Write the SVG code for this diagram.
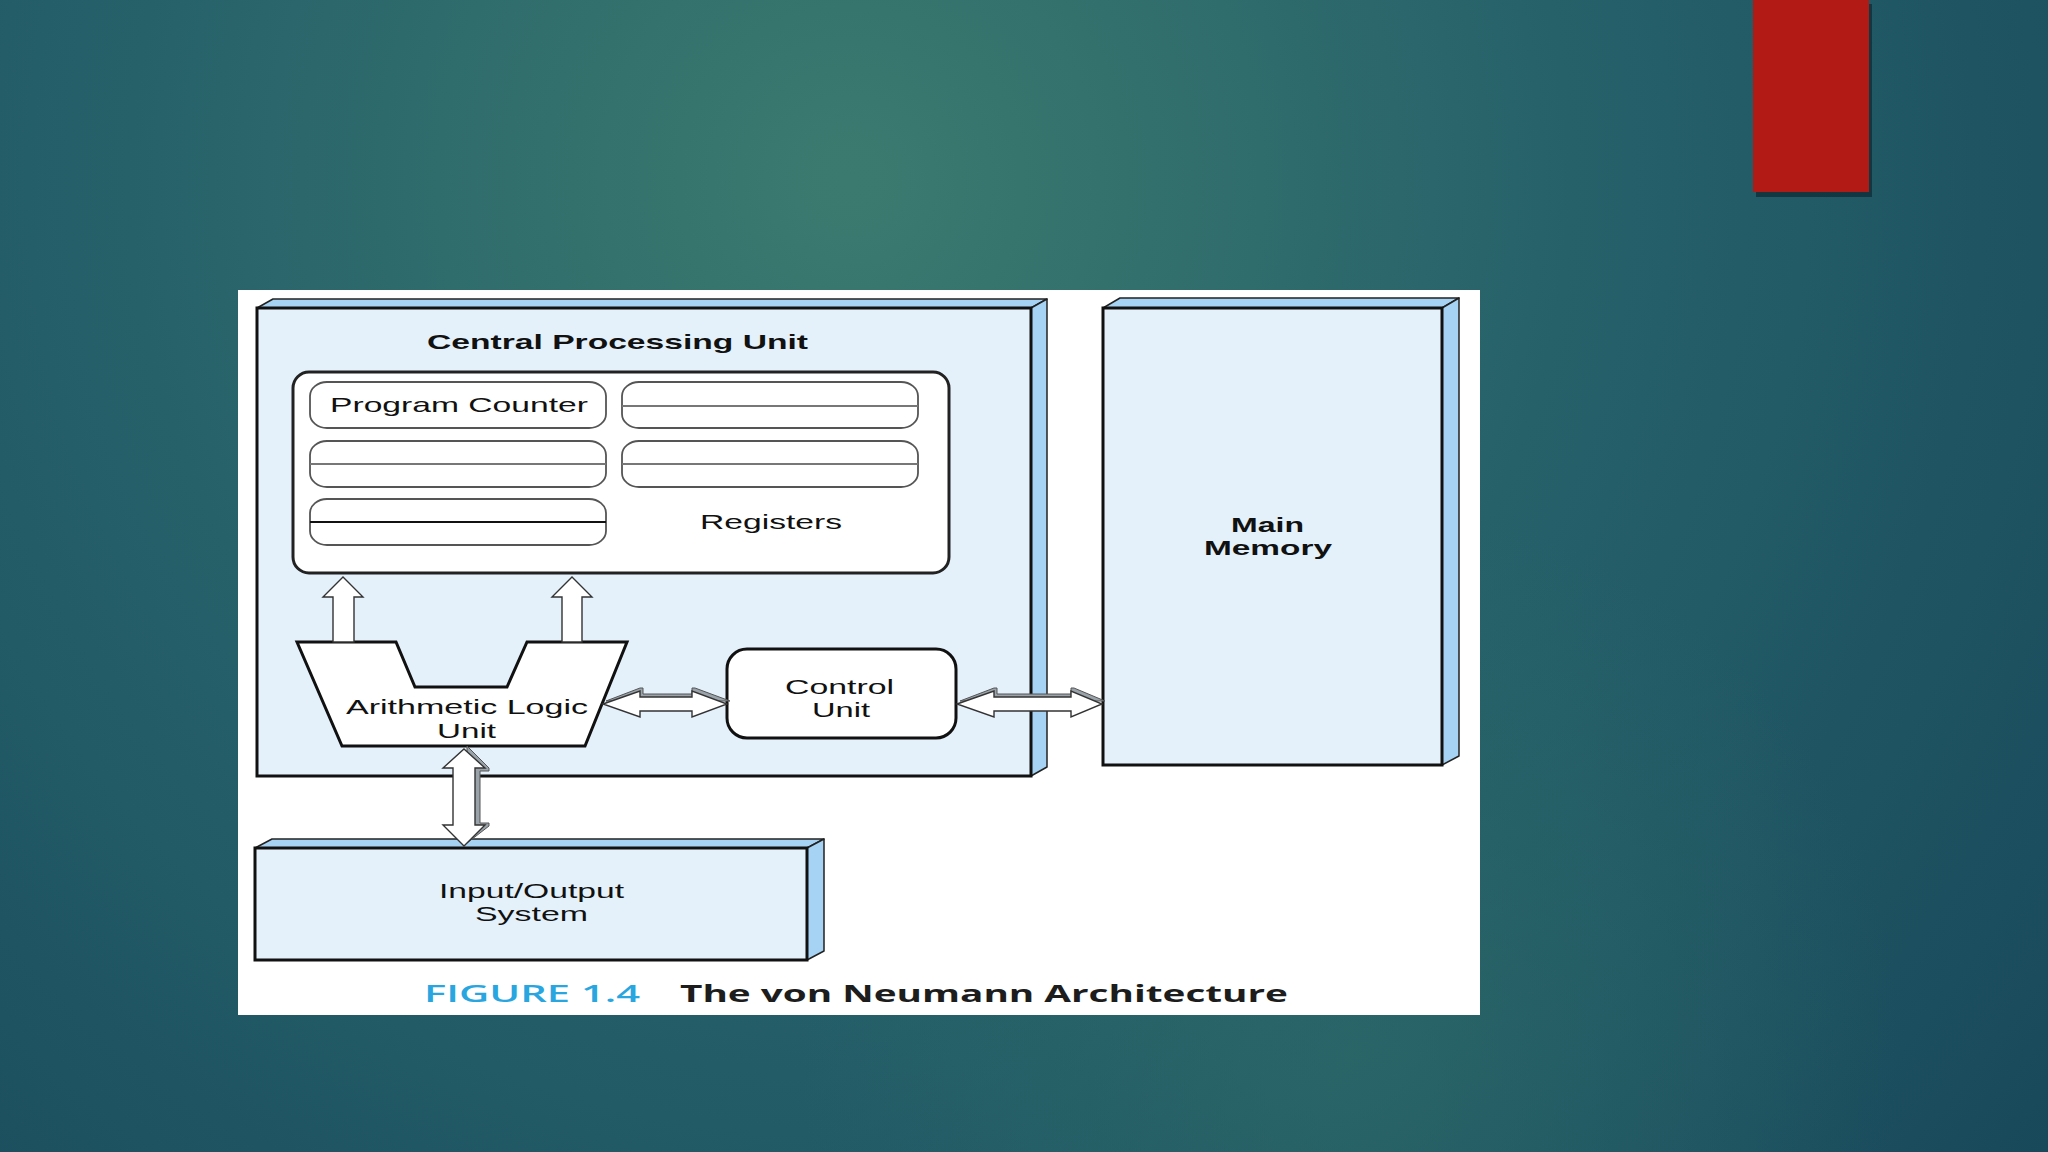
<svg xmlns="http://www.w3.org/2000/svg" width="2048" height="1152" viewBox="0 0 2048 1152">
  <defs>
    <radialGradient id="bg" cx="850" cy="180" r="1600" gradientUnits="userSpaceOnUse">
      <stop offset="0" stop-color="#3b7b6f"/>
      <stop offset="0.45" stop-color="#26616a"/>
      <stop offset="1" stop-color="#17475a"/>
    </radialGradient>
    <radialGradient id="bg2" cx="1350" cy="1050" r="550" gradientUnits="userSpaceOnUse">
      <stop offset="0" stop-color="#2f6e6a" stop-opacity="0.6"/>
      <stop offset="1" stop-color="#2f6e6a" stop-opacity="0"/>
    </radialGradient>
    <style>
      .face { fill: #e4f1fb; stroke: #111; stroke-width: 3; stroke-linejoin: miter; }
      .bevel { fill: #a6d3f3; stroke: #222; stroke-width: 1.5; stroke-linejoin: round; }
      .reg { fill: #fff; stroke: #555; stroke-width: 1.8; }
      .regline { stroke: #777; stroke-width: 2; }
      .arrow { fill: #fff; stroke: #333; stroke-width: 1.4; stroke-linejoin: miter; }
      .ashadow { fill: #9aa3aa; stroke: #555; stroke-width: 1; }
      .lbl { font-family: "Liberation Sans", Arial, sans-serif; font-size: 21px; fill: #111; }
      .bold { font-family: "Liberation Sans", Arial, sans-serif; font-size: 21px; font-weight: bold; fill: #111; }
      .cap { font-family: "Open Sans", "Noto Sans", sans-serif; font-size: 23px; }
    </style>
  </defs>

  <!-- background -->
  <rect x="0" y="0" width="2048" height="1152" fill="url(#bg)"/>
  <rect x="0" y="0" width="2048" height="1152" fill="url(#bg2)"/>

  <!-- red accent bar -->
  <rect x="1756" y="4" width="116" height="193" fill="#0e2a33" opacity="0.7"/>
  <rect x="1753" y="0" width="116" height="192" fill="#b21a16"/>

  <!-- white figure panel -->
  <rect x="238" y="290" width="1242" height="725" fill="#ffffff"/>

  <!-- CPU -->
  <g id="cpu">
    <polygon class="bevel" points="257,308 273,299 1047,299 1031,308"/>
    <polygon class="bevel" points="1031,308 1047,299 1047,767 1031,776"/>
    <rect class="face" x="257" y="308" width="774" height="468"/>
    <text class="bold" x="427" y="349" textLength="381" lengthAdjust="spacingAndGlyphs">Central Processing Unit</text>
  </g>

  <!-- Registers -->
  <g id="registers">
    <rect x="293" y="372" width="656" height="201" rx="16" ry="16" fill="#fff" stroke="#222" stroke-width="3"/>
    <rect class="reg" x="310" y="382" width="296" height="46" rx="17" ry="14"/>
    <rect class="reg" x="622" y="382" width="296" height="46" rx="17" ry="14"/>
    <line class="regline" x1="622" y1="406" x2="918" y2="406"/>
    <rect class="reg" x="310" y="441" width="296" height="46" rx="17" ry="14"/>
    <line class="regline" x1="310" y1="464" x2="606" y2="464"/>
    <rect class="reg" x="622" y="441" width="296" height="46" rx="17" ry="14"/>
    <line class="regline" x1="622" y1="464" x2="918" y2="464"/>
    <rect class="reg" x="310" y="499" width="296" height="46" rx="17" ry="14"/>
    <line x1="310" y1="522" x2="606" y2="522" stroke="#111" stroke-width="2"/>
    <text class="lbl" x="330" y="412" textLength="258" lengthAdjust="spacingAndGlyphs">Program Counter</text>
    <text class="lbl" x="700" y="529" textLength="142" lengthAdjust="spacingAndGlyphs">Registers</text>
  </g>

  <!-- ALU -->
  <g id="alu">
    <polygon points="297,642 396,642 415,687 507,687 527,642 627,642 585,746 342,746" fill="#fff" stroke="#111" stroke-width="3" stroke-linejoin="miter"/>
    <text class="lbl" x="346" y="714" textLength="242" lengthAdjust="spacingAndGlyphs">Arithmetic Logic</text>
    <text class="lbl" x="437" y="738" textLength="59" lengthAdjust="spacingAndGlyphs">Unit</text>
  </g>

  <!-- Control Unit -->
  <g id="control-unit">
    <rect x="727" y="649" width="229" height="89" rx="20" ry="20" fill="#fff" stroke="#111" stroke-width="3"/>
    <text class="lbl" x="785" y="694" textLength="109" lengthAdjust="spacingAndGlyphs">Control</text>
    <text class="lbl" x="812" y="717" textLength="58" lengthAdjust="spacingAndGlyphs">Unit</text>
  </g>

  <!-- Main Memory -->
  <g id="main-memory">
    <polygon class="bevel" points="1103,308 1120,298 1459,298 1442,308"/>
    <polygon class="bevel" points="1442,308 1459,298 1459,756 1442,765"/>
    <rect class="face" x="1103" y="308" width="339" height="457"/>
    <text class="bold" x="1231" y="532" font-size="21" textLength="73" lengthAdjust="spacingAndGlyphs">Main</text>
    <text class="bold" x="1204" y="555" font-size="21" textLength="128" lengthAdjust="spacingAndGlyphs">Memory</text>
  </g>

  <!-- Input/Output System -->
  <g id="io-system">
    <polygon class="bevel" points="255,848 272,839 824,839 807,848"/>
    <polygon class="bevel" points="807,848 824,839 824,951 807,960"/>
    <rect class="face" x="255" y="848" width="552" height="112"/>
    <text class="lbl" x="439" y="898" textLength="185" lengthAdjust="spacingAndGlyphs">Input/Output</text>
    <text class="lbl" x="475" y="921" textLength="113" lengthAdjust="spacingAndGlyphs">System</text>
  </g>

  <!-- connectors -->
  <g id="connectors">
    <!-- ALU to registers (up) -->
    <polygon class="arrow" points="343,577 363,597 354,597 354,642 333,642 333,597 323,597"/>
    <polygon class="arrow" points="572,577 592,597 582,597 582,642 562,642 562,597 552,597"/>
    <!-- ALU <-> Control Unit -->
    <polygon class="ashadow" points="606,701 640,688 643,688 643,694 692,694 692,688 695,688 730,701"/>
    <polygon class="arrow" points="603,704 640,691 640,697 692,697 692,691 727,704 692,717 692,711 640,711 640,717"/>
    <!-- Control Unit <-> Main Memory -->
    <polygon class="ashadow" points="960,701 994,688 997,688 997,694 1071,694 1071,688 1074,688 1105,701"/>
    <polygon class="arrow" points="957,704 994,691 994,697 1071,697 1071,691 1102,704 1071,717 1071,711 994,711 994,717"/>
    <!-- ALU <-> I/O -->
    <polygon class="ashadow" points="467,746 489,768 489,771 480,771 480,823 489,823 489,826 467,843"/>
    <polygon class="arrow" points="464,749 485,768 475,768 475,825 485,825 464,846 443,825 453,825 453,768 443,768"/>
  </g>

  <!-- caption -->
  <g id="caption">
    <text class="cap" x="424" y="1002" fill="#29a6df" font-weight="600" textLength="216" lengthAdjust="spacingAndGlyphs">FIGURE 1.4</text>
    <text class="cap" x="680" y="1002" fill="#1d1d1d" font-weight="bold" textLength="608" lengthAdjust="spacingAndGlyphs">The von Neumann Architecture</text>
  </g>
</svg>
